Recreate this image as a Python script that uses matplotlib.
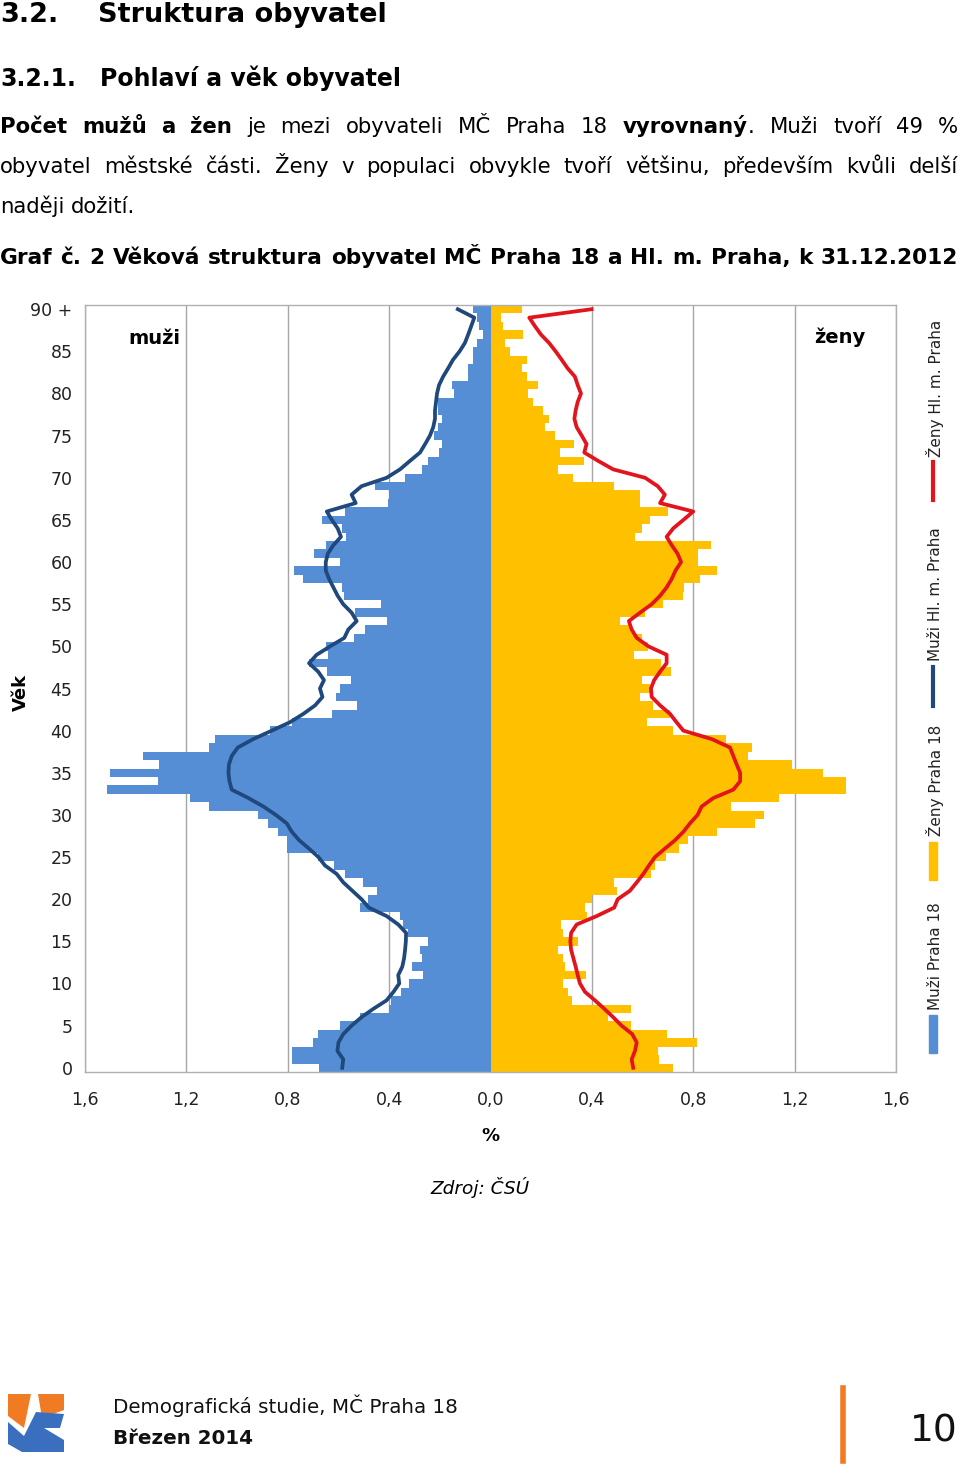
import matplotlib
matplotlib.use("Agg")
import matplotlib.pyplot as plt
from matplotlib.patches import Polygon, Rectangle
from matplotlib.lines import Line2D

W, H = 960, 1465

# age 0 .. 90+ (share of population, %)
ages = list(range(91))

muzi_p18 = [0.677, 0.782, 0.782, 0.699, 0.682, 0.594, 0.515, 0.400, 0.393, 0.353,
            0.321, 0.268, 0.311, 0.271, 0.278, 0.248, 0.324, 0.344, 0.357, 0.515,
            0.482, 0.449, 0.502, 0.574, 0.616, 0.679, 0.801, 0.801, 0.840, 0.877,
            0.918, 1.110, 1.185, 1.514, 1.310, 1.501, 1.308, 1.373, 1.110, 1.087,
            0.870, 0.784, 0.627, 0.528, 0.611, 0.594, 0.551, 0.646, 0.716, 0.640,
            0.650, 0.537, 0.495, 0.410, 0.535, 0.433, 0.580, 0.587, 0.738, 0.775,
            0.594, 0.695, 0.650, 0.570, 0.585, 0.665, 0.574, 0.403, 0.400, 0.456,
            0.337, 0.271, 0.245, 0.203, 0.193, 0.222, 0.206, 0.190, 0.206, 0.206,
            0.143, 0.153, 0.090, 0.088, 0.070, 0.070, 0.054, 0.028, 0.044, 0.054,
            0.070]

zeny_p18 = [0.721, 0.665, 0.660, 0.813, 0.695, 0.554, 0.465, 0.554, 0.323, 0.307,
            0.287, 0.375, 0.294, 0.287, 0.265, 0.346, 0.287, 0.278, 0.379, 0.373,
            0.399, 0.500, 0.488, 0.632, 0.649, 0.692, 0.744, 0.780, 0.892, 1.043,
            1.080, 0.949, 1.138, 1.401, 1.401, 1.313, 1.188, 1.017, 1.030, 0.928,
            0.721, 0.616, 0.708, 0.640, 0.589, 0.629, 0.597, 0.712, 0.673, 0.567,
            0.623, 0.597, 0.557, 0.511, 0.609, 0.682, 0.761, 0.765, 0.826, 0.892,
            0.820, 0.820, 0.870, 0.570, 0.599, 0.629, 0.699, 0.590, 0.590, 0.488,
            0.327, 0.265, 0.370, 0.274, 0.331, 0.254, 0.215, 0.232, 0.208, 0.169,
            0.147, 0.186, 0.143, 0.123, 0.143, 0.077, 0.057, 0.129, 0.050, 0.041,
            0.123]

muzi_praha = [0.585, 0.581, 0.604, 0.600, 0.581, 0.548, 0.509, 0.462, 0.410, 0.383,
              0.360, 0.364, 0.348, 0.341, 0.337, 0.334, 0.333, 0.364, 0.410, 0.480,
              0.509, 0.545, 0.581, 0.607, 0.653, 0.679, 0.716, 0.755, 0.784, 0.804,
              0.847, 0.896, 0.955, 1.021, 1.030, 1.034, 1.032, 1.021, 0.997, 0.936,
              0.863, 0.791, 0.738, 0.692, 0.663, 0.673, 0.657, 0.680, 0.716, 0.686,
              0.633, 0.577, 0.561, 0.528, 0.548, 0.581, 0.603, 0.620, 0.637, 0.650,
              0.650, 0.642, 0.620, 0.590, 0.603, 0.626, 0.646, 0.532, 0.548, 0.509,
              0.410, 0.357, 0.318, 0.278, 0.258, 0.239, 0.226, 0.219, 0.219, 0.215,
              0.211, 0.203, 0.187, 0.167, 0.148, 0.122, 0.101, 0.088, 0.076, 0.064,
              0.129]

zeny_praha = [0.563, 0.557, 0.570, 0.577, 0.559, 0.517, 0.484, 0.449, 0.412, 0.373,
              0.353, 0.344, 0.336, 0.327, 0.318, 0.315, 0.318, 0.340, 0.419, 0.488,
              0.502, 0.550, 0.577, 0.603, 0.625, 0.649, 0.688, 0.728, 0.761, 0.787,
              0.817, 0.833, 0.879, 0.958, 0.985, 0.985, 0.971, 0.958, 0.945, 0.873,
              0.761, 0.734, 0.708, 0.669, 0.636, 0.633, 0.646, 0.669, 0.695, 0.695,
              0.623, 0.577, 0.557, 0.546, 0.590, 0.636, 0.669, 0.695, 0.715, 0.730,
              0.752, 0.738, 0.715, 0.695, 0.721, 0.761, 0.800, 0.669, 0.688, 0.660,
              0.610, 0.484, 0.425, 0.370, 0.379, 0.360, 0.340, 0.331, 0.336, 0.344,
              0.357, 0.344, 0.333, 0.304, 0.281, 0.257, 0.231, 0.199, 0.175, 0.153,
              0.399]

y_ticks = [0, 5, 10, 15, 20, 25, 30, 35, 40, 45, 50, 55, 60, 65, 70, 75, 80, 85, 90]
y_labels = ["0", "5", "10", "15", "20", "25", "30", "35", "40", "45", "50", "55",
            "60", "65", "70", "75", "80", "85", "90 +"]
x_ticks = [-1.6, -1.2, -0.8, -0.4, 0.0, 0.4, 0.8, 1.2, 1.6]
x_labels = ["1,6", "1,2", "0,8", "0,4", "0,0", "0,4", "0,8", "1,2", "1,6"]

BLUE = "#558ed5"
YELLOW = "#ffc000"
NAVY = "#1f497d"
RED = "#e3141b"

plt.rcParams["font.family"] = ["DejaVu Sans"]

fig = plt.figure(figsize=(W / 100, H / 100), dpi=100)


def fx(px):
    return px / W


def fy(py):
    return 1 - py / H


# ---- chart ----
ax = fig.add_axes([fx(85), fy(1072), fx(896) - fx(85), fy(305) - fy(1072)])
ax.barh(ages, [-v for v in muzi_p18], height=1.0, color=BLUE, linewidth=0, zorder=2)
ax.barh(ages, zeny_p18, height=1.0, color=YELLOW, linewidth=0, zorder=2)
ax.plot([-v for v in muzi_praha], ages, color=NAVY, lw=2.7, zorder=3,
        solid_joinstyle="round")
ax.plot(zeny_praha, ages, color=RED, lw=2.7, zorder=3, solid_joinstyle="round")

ax.set_xlim(-1.6, 1.6)
ax.set_ylim(-0.5, 90.5)
ax.set_xticks(x_ticks)
ax.set_xticklabels(x_labels, fontsize=12.5)
ax.set_yticks(y_ticks)
ax.set_yticklabels(y_labels, fontsize=12.5)
ax.tick_params(axis="both", length=0, colors="#222222")
ax.tick_params(axis="x", pad=14)
ax.tick_params(axis="y", pad=9)
ax.grid(axis="x", color="#a6a6a6", lw=1.0, zorder=0)
ax.set_axisbelow(True)
for s in ax.spines.values():
    s.set_color("#b0b0b0")
    s.set_linewidth(1.0)

fig.text(fx(154), fy(339), "muži", fontsize=14, fontweight="bold", ha="center", va="center")
fig.text(fx(840), fy(337), "ženy", fontsize=14, fontweight="bold", ha="center", va="center")
fig.text(fx(21), fy(692), "Věk", fontsize=13, fontweight="bold", rotation=90,
         ha="center", va="center")
fig.text(fx(490), fy(1136), "%", fontsize=13, fontweight="bold", ha="center", va="center")
fig.text(fx(480), fy(1188), "Zdroj: ČSÚ", fontsize=13.3, style="italic",
         ha="center", va="center")

# ---- legend (rotated, right side) ----
fig.patches.append(Rectangle((fx(929), fy(1053)), fx(8), fy(1015) - fy(1053),
                             transform=fig.transFigure, color=BLUE))
fig.patches.append(Rectangle((fx(929), fy(880)), fx(8), fy(842) - fy(880),
                             transform=fig.transFigure, color=YELLOW))
fig.lines.append(Line2D([fx(933), fx(933)], [fy(706), fy(667)], transform=fig.transFigure,
                        color=NAVY, lw=3))
fig.lines.append(Line2D([fx(933), fx(933)], [fy(500), fy(462)], transform=fig.transFigure,
                        color=RED, lw=3))
for label, start in [("Muži Praha 18", 1010), ("Ženy Praha 18", 836),
                     ("Muži Hl. m. Praha", 661), ("Ženy Hl. m. Praha", 457)]:
    fig.text(fx(935), fy(start), label, fontsize=11, rotation=90, ha="center", va="bottom",
             color="#222222")

# ---- header text ----
fig.text(0, fy(22), "3.2.", fontsize=19.5, fontweight="bold", va="baseline")
fig.text(fx(98), fy(22), "Struktura obyvatel", fontsize=19.5, fontweight="bold",
         va="baseline")
fig.text(0, fy(86), "3.2.1.", fontsize=17, fontweight="bold", va="baseline")
fig.text(fx(100), fy(86), "Pohlaví a věk obyvatel", fontsize=17, fontweight="bold",
         va="baseline")

renderer = fig.canvas.get_renderer()


def justify(words, base, fs, x0=0, x1=958, justify_line=True):
    items = []
    for word in words:
        segs = []
        for txt, bold in word:
            t = fig.text(0, fy(base), txt, fontsize=fs, va="baseline",
                         fontweight="bold" if bold else "normal")
            segs.append((t, t.get_window_extent(renderer).width))
        items.append(segs)
    widths = [sum(w for _, w in segs) for segs in items]
    if justify_line:
        gap = (x1 - x0 - sum(widths)) / (len(items) - 1)
    else:
        gap = renderer.points_to_pixels(fs) * 0.32
    x = x0
    for segs, wsum in zip(items, widths):
        xx = x
        for t, w in segs:
            t.set_x(fx(xx))
            xx += w
        x += wsum + gap


def plain(s, bold=False):
    return [[(w, bold)] for w in s.split()]


line1 = (plain("Počet mužů a žen", True) + plain("je mezi obyvateli MČ Praha 18")
         + [[("vyrovnaný", True), (".", False)]] + plain("Muži tvoří 49 %"))
line2 = plain("obyvatel městské části. Ženy v populaci obvykle tvoří většinu, "
              "především kvůli delší")
line3 = plain("naději dožití.")
justify(line1, 133, 15.3)
justify(line2, 173, 15.3)
justify(line3, 213, 15.3, justify_line=False)
justify(plain("Graf č. 2 Věková struktura obyvatel MČ Praha 18 a Hl. m. Praha, k 31.12.2012",
              True), 264, 15.6, x0=0, x1=958)

# ---- footer ----
def poly(pts, color):
    fig.patches.append(Polygon([(fx(x), fy(y)) for x, y in pts], closed=True,
                               transform=fig.transFigure, color=color, lw=0))


poly([(8, 1394), (31, 1394), (24, 1428), (8, 1416)], "#f07b22")
poly([(38, 1394), (64, 1394), (64, 1410), (42, 1418)], "#f07b22")
poly([(8, 1422), (24, 1436), (36, 1412), (64, 1414), (60, 1428), (44, 1428),
      (64, 1440), (64, 1452), (22, 1452), (8, 1444)], "#3a6fbf")

fig.text(fx(113), fy(1406), "Demografická studie, MČ Praha 18", fontsize=14.3,
         va="center", color="#111111")
fig.text(fx(113), fy(1438), "Březen 2014", fontsize=14.3, fontweight="bold", va="center",
         color="#111111")
fig.lines.append(Line2D([fx(843), fx(843)], [fy(1388), fy(1461)], transform=fig.transFigure,
                        color="#f07b22", lw=4))
fig.text(fx(958), fy(1432), "10", fontsize=27, ha="right", va="center", color="#111111")

fig.savefig("out.png", dpi=100)
